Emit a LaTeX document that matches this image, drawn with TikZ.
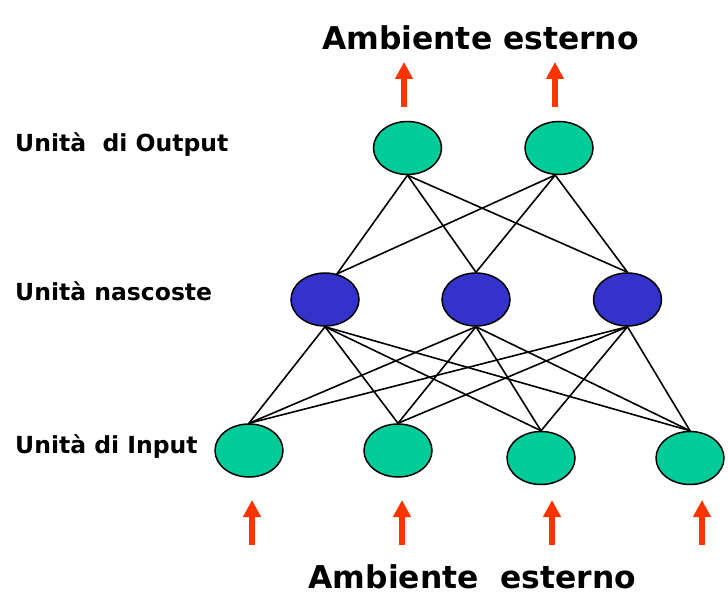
\documentclass[tikz,border=0pt]{standalone}
\usepackage{fontspec}
\setmainfont{DejaVu Sans}
\usetikzlibrary{arrows.meta,shapes.geometric}
\definecolor{unitgreen}{RGB}{0,204,153}
\definecolor{unitblue}{RGB}{51,51,204}
\definecolor{envred}{RGB}{255,51,0}

\begin{document}
\begin{tikzpicture}[x=1pt,y=-1pt,line cap=round,
  unit/.style={ellipse,draw=black,line width=1.5pt,minimum width=68pt,minimum height=53pt,inner sep=0pt},
  link/.style={line width=1.6pt},
  envarrow/.style={envred,line width=6.5pt,line cap=butt,-{Triangle[length=17pt,width=17pt]}},
  layerlabel/.style={anchor=base west,inner sep=0pt,font=\bfseries\fontsize{23.5}{28}\selectfont},
  envlabel/.style={anchor=base,inner sep=0pt,font=\bfseries\fontsize{31.4}{36}\selectfont}]
\useasboundingbox (0,0) rectangle (728,596);
% titles
\node[envlabel] (envtop) at (480.5,50) {Ambiente esterno};
\node[envlabel] (envbot) at (472.5,588) {Ambiente\ \ esterno};
\node[layerlabel] (lblout) at (15,152) {Unità\ \ di Output};
\node[layerlabel] (lblhid) at (15,300) {Unità nascoste};
\node[layerlabel] (lblin) at (15,453) {Unità di Input};
% units
\node[unit,fill=unitgreen] (out1) at (407.5,148) {};
\node[unit,fill=unitgreen] (out2) at (559,148) {};
\node[unit,fill=unitblue] (hid1) at (325,299.5) {};
\node[unit,fill=unitblue] (hid2) at (476,299.5) {};
\node[unit,fill=unitblue] (hid3) at (627.5,299.5) {};
\node[unit,fill=unitgreen] (in1) at (249,450.5) {};
\node[unit,fill=unitgreen] (in2) at (398,450.5) {};
\node[unit,fill=unitgreen] (in3) at (541,458) {};
\node[unit,fill=unitgreen] (in4) at (690,458) {};
% output -- hidden
\draw[link] (out1.south) -- (hid1.65);
\draw[link] (out1.south) -- (hid2.north);
\draw[link] (out1.south) -- (hid3.north);
\draw[link] (out2.262) -- (hid1.65);
\draw[link] (out2.262) -- (hid2.north);
\draw[link] (out2.262) -- (hid3.north);
% hidden -- input
\draw[link] (hid1.south) -- (in1.north);
\draw[link] (hid1.south) -- (in2.north);
\draw[link] (hid1.south) -- (in3.north);
\draw[link] (hid1.south) -- (in4.north);
\draw[link] (hid2.south) -- (in1.north);
\draw[link] (hid2.south) -- (in2.north);
\draw[link] (hid2.south) -- (in3.north);
\draw[link] (hid2.south) -- (in4.north);
\draw[link] (hid3.south) -- (in1.north);
\draw[link] (hid3.south) -- (in2.north);
\draw[link] (hid3.south) -- (in3.north);
\draw[link] (hid3.south) -- (in4.north);
% environment arrows
\coordinate (arrout1) at (404,107);
\coordinate (arrout2) at (555,107);
\coordinate (arrin1) at (252,545);
\coordinate (arrin2) at (402,545);
\coordinate (arrin3) at (552,545);
\coordinate (arrin4) at (702,545);
\draw[envarrow] (arrout1) -- ++(0,-45);
\draw[envarrow] (arrout2) -- ++(0,-45);
\draw[envarrow] (arrin1) -- ++(0,-45);
\draw[envarrow] (arrin2) -- ++(0,-45);
\draw[envarrow] (arrin3) -- ++(0,-45);
\draw[envarrow] (arrin4) -- ++(0,-45);
\end{tikzpicture}
\end{document}
